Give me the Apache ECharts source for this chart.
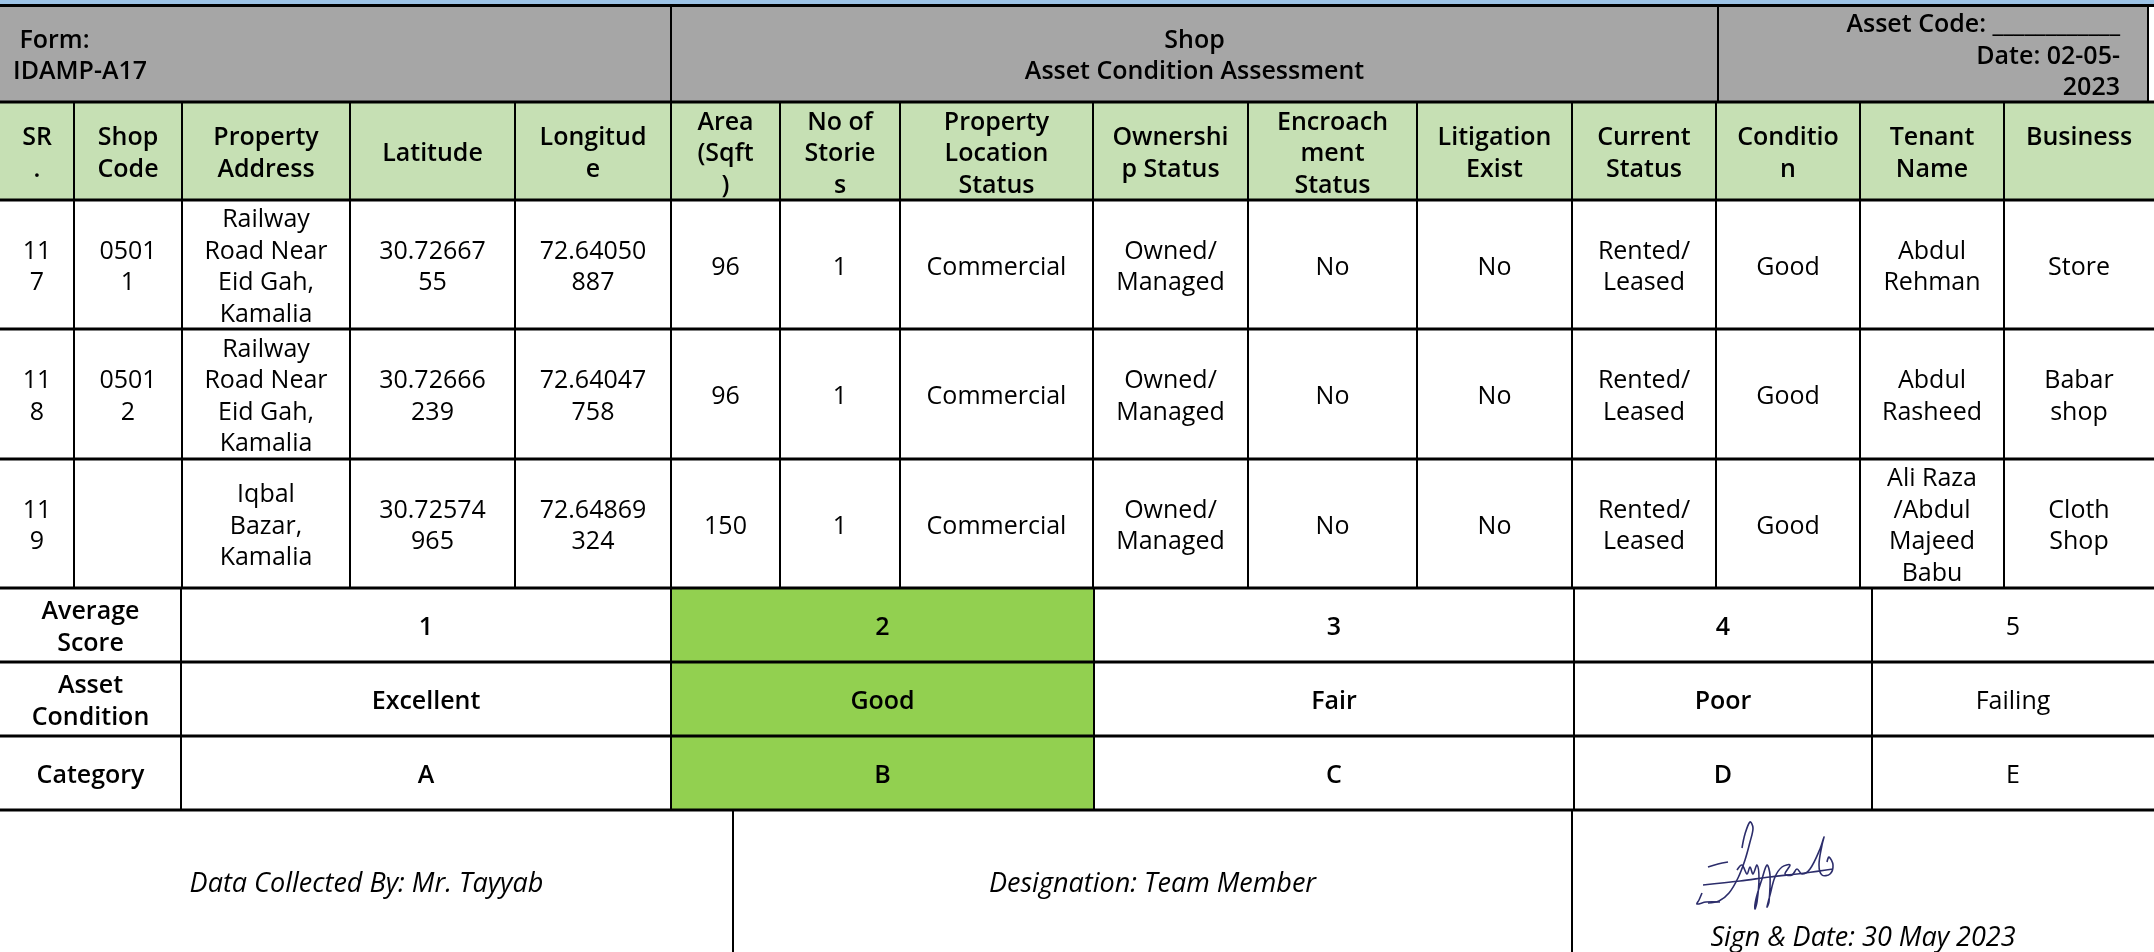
<!DOCTYPE html>
<html><head><meta charset="utf-8">
<script src="https://cdn.jsdelivr.net/npm/echarts@6/dist/echarts.min.js"></script>
<style>html,body{margin:0;padding:0;background:#fff}#c{width:2154px;height:952px}</style>
</head><body><div id="c"></div>
<script>
// ---------------- DATA ----------------
const formLabel = ' Form:';
const formCode = 'IDAMP-A17';
const sheetTitle = ['Shop', 'Asset Condition Assessment'];
const assetCodeText = 'Asset Code: ____________';
const reportDate = '02-05-2023';
const columnHeaders = ['SR\n.', 'Shop\nCode', 'Property\nAddress', 'Latitude', 'Longitud\ne', 'Area\n(Sqft\n)', 'No of\nStorie\ns',
  'Property\nLocation\nStatus', 'Ownershi\np Status', 'Encroach\nment\nStatus', 'Litigation\nExist', 'Current\nStatus', 'Conditio\nn', 'Tenant\nName', 'Business\n'];
const srNo = ['117', '118', '119'];
const shopCode = ['05011', '05012', ''];
const propertyAddress = ['Railway Road Near Eid Gah, Kamalia', 'Railway Road Near Eid Gah, Kamalia', 'Iqbal Bazar, Kamalia'];
const latitude = ['30.7266755', '30.72666239', '30.72574965'];
const longitude = ['72.64050887', '72.64047758', '72.64869324'];
const areaSqft = [96, 96, 150];
const noOfStories = [1, 1, 1];
const locationStatus = ['Commercial', 'Commercial', 'Commercial'];
const ownershipStatus = ['Owned/Managed', 'Owned/Managed', 'Owned/Managed'];
const encroachmentStatus = ['No', 'No', 'No'];
const litigationExist = ['No', 'No', 'No'];
const currentStatus = ['Rented/Leased', 'Rented/Leased', 'Rented/Leased'];
const conditionValue = ['Good', 'Good', 'Good'];
const tenantName = ['Abdul Rehman', 'Abdul Rasheed', 'Ali Raza /Abdul Majeed Babu'];
const businessName = ['Store', 'Babar shop', 'Cloth Shop'];
const scaleLabels = ['Average Score', 'Asset Condition', 'Category'];
const averageScores = [1, 2, 3, 4, 5];
const assetConditions = ['Excellent', 'Good', 'Fair', 'Poor', 'Failing'];
const categories = ['A', 'B', 'C', 'D', 'E'];
const selectedCategory = 'B';
const collectedBy = 'Data Collected By: Mr. Tayyab';
const designation = 'Designation: Team Member';
const signDate = 'Sign & Date: 30 May 2023';

// ---------------- LAYOUT / STYLE ----------------
const W = 2154, H = 952;
const FAM = '"Open Sans", "Noto Sans", sans-serif';
const FS = 25, LH = 31.5, TEXT_DY = 3;
const C_BLUE = '#9DC3E6', C_GRAY = '#A6A6A6', C_HEAD = '#C6E0B4', C_SEL = '#92D050';
const bandBottom = 5;
const titleEdges = [0, 671, 1718, 2148];
const titleRow = [5, 102];
const headRow = [102, 200];
const colEdges = [0, 74, 182, 350, 515, 671, 780, 900, 1093, 1248, 1417, 1572, 1716, 1860, 2004, 2154];
const dataRowEdges = [200, 329, 459, 588];
const colWrap = [36, 64, 130, 114, 114, 90, 90, 175, 130, 130, 130, 130, 130, 120, 110];
const scaleColEdges = [0, 181, 671, 1094, 1574, 1872, 2154];
const scaleRowEdges = [588, 662, 736, 810];
const footEdges = [0, 733, 1572, 2154];
const footRow = [810, 952];

const fontOf = (w, s, it) => (it ? 'italic ' : '') + w + ' ' + s + 'px ' + FAM;
const F_REG = fontOf(400, FS), F_MED = fontOf(600, FS), F_IT = fontOf(400, 27, true);

const mctx = document.createElement('canvas').getContext('2d');
function wrap(text, maxW, font) {
  text = String(text);
  if (!text) return '';
  mctx.font = font;
  const m = s => mctx.measureText(s).width;
  const tokens = [];
  let cur = '';
  for (let i = 0; i < text.length; i++) {
    const ch = text[i];
    cur += ch;
    const prev = text[i - 1], next = text[i + 1];
    if (ch === ' ' || ((ch === '/' || ch === '-') && prev && prev !== ' ' && next && next !== ' ')) {
      tokens.push(cur); cur = '';
    }
  }
  if (cur) tokens.push(cur);
  const lines = [];
  let line = '';
  for (const tk of tokens) {
    if (m((line + tk).trimEnd()) <= maxW) { line += tk; continue; }
    if (line.trim()) { lines.push(line.trimEnd()); line = ''; }
    let t = tk;
    while (m(t.trimEnd()) > maxW && t.length > 1) {
      let k = 1;
      while (k < t.length && m(t.slice(0, k + 1)) <= maxW) k++;
      lines.push(t.slice(0, k)); t = t.slice(k);
    }
    line = t;
  }
  if (line.trim()) lines.push(line.trimEnd());
  return lines.join('\n');
}

// ---------------- BUILD CELLS ----------------
const cells = [];
const lines = [];
function cell(x0, y0, x1, y1, o) { cells.push(Object.assign({ x0, y0, x1, y1 }, o)); }
function hline(y, x0, x1, w) { lines.push({ x0, y0: y, x1, y1: y, w }); }
function vline(x, y0, y1, w) { lines.push({ x0: x, y0, x1: x, y1, w }); }

cell(0, 0, W, bandBottom, { fill: C_BLUE });
// title row
cell(titleEdges[0], titleRow[0], titleEdges[1], titleRow[1], { fill: C_GRAY, text: formLabel + '\n' + formCode, align: 'left', pad: 13, font: F_MED });
cell(titleEdges[1], titleRow[0], titleEdges[2], titleRow[1], { fill: C_GRAY, text: sheetTitle.join('\n'), font: F_MED });
cell(titleEdges[2], titleRow[0], titleEdges[3], titleRow[1], { fill: C_GRAY, text: assetCodeText + '\n' + wrap('Date: ' + reportDate, 185, F_MED), align: 'right', pad: 28, font: F_MED });
// header row
columnHeaders.forEach((h, i) => cell(colEdges[i], headRow[0], colEdges[i + 1], headRow[1], { fill: C_HEAD, text: h, font: F_MED }));
// data rows
const columns = [srNo, shopCode, propertyAddress, latitude, longitude, areaSqft, noOfStories, locationStatus,
  ownershipStatus, encroachmentStatus, litigationExist, currentStatus, conditionValue, tenantName, businessName];
for (let r = 0; r < srNo.length; r++) {
  columns.forEach((col, i) => cell(colEdges[i], dataRowEdges[r], colEdges[i + 1], dataRowEdges[r + 1],
    { text: wrap(col[r], colWrap[i], F_REG), font: F_REG }));
}
// scale rows
const scaleRows = [averageScores, assetConditions, categories];
scaleRows.forEach((vals, r) => {
  const y0 = scaleRowEdges[r], y1 = scaleRowEdges[r + 1];
  cell(scaleColEdges[0], y0, scaleColEdges[1], y1, { text: wrap(scaleLabels[r], 140, F_MED), font: F_MED });
  vals.forEach((v, k) => {
    const sel = categories[k] === selectedCategory;
    cell(scaleColEdges[k + 1], y0, scaleColEdges[k + 2], y1,
      { fill: sel ? C_SEL : null, text: String(v), font: k === vals.length - 1 ? F_REG : F_MED });
  });
});
// footer
cell(footEdges[0], footRow[0], footEdges[1], footRow[1], { text: collectedBy, font: F_IT });
cell(footEdges[1], footRow[0], footEdges[2], footRow[1], { text: designation, font: F_IT });
cell(footEdges[2], footRow[0], footEdges[3], footRow[1], { text: signDate, font: F_IT, vAlign: 'bottom', pad: 17 });

// grid lines
hline(bandBottom + 0.5, 0, W, 3);
titleEdges.slice(1).forEach(x => vline(x, titleRow[0], titleRow[1], 2));
hline(headRow[0], 0, W, 3);
colEdges.slice(1, -1).forEach(x => vline(x, headRow[0], dataRowEdges[dataRowEdges.length - 1], 2));
[headRow[1]].concat(dataRowEdges.slice(1)).forEach(y => hline(y, 0, W, 3));
scaleColEdges.slice(1, -1).forEach(x => vline(x, scaleRowEdges[0], scaleRowEdges[scaleRowEdges.length - 1], 2));
scaleRowEdges.slice(1).forEach(y => hline(y, 0, W, 3));
footEdges.slice(1, -1).forEach(x => vline(x, footRow[0], footRow[1], 2));

// decorative signature ink strokes, placed in the signature cell
const signature = [
  [[1742, 848], [1745, 834], [1750, 822], [1753, 828], [1750, 842], [1745, 860], [1738, 878], [1729, 893], [1719, 901], [1708, 903]],
  [[1702, 893], [1699, 900], [1697, 904], [1706, 902], [1720, 902]],
  [[1703, 885], [1740, 881], [1770, 877], [1805, 873], [1833, 869]],
  [[1708, 867], [1718, 864], [1728, 862]],
  [[1737, 870], [1742, 865], [1747, 874], [1750, 867], [1753, 874], [1757, 865], [1759, 879], [1757, 902], [1755, 909], [1756, 899],
   [1762, 879], [1767, 865], [1770, 875], [1769, 902], [1767, 907], [1770, 895], [1775, 877], [1782, 867], [1790, 865], [1785, 874],
   [1792, 875], [1797, 869], [1802, 874], [1810, 869], [1820, 849], [1824, 837], [1822, 845], [1819, 865], [1822, 875], [1830, 874],
   [1833, 865], [1829, 857], [1827, 862]]
];

const chart = echarts.init(document.getElementById('c'), null, { renderer: 'canvas' });
chart.setOption({
  animation: false,
  backgroundColor: '#ffffff',
  grid: { left: 0, right: 0, top: 0, bottom: 0 },
  xAxis: { type: 'value', min: 0, max: W, show: false },
  yAxis: { type: 'value', min: 0, max: H, inverse: true, show: false },
  series: [
    {
      type: 'custom', silent: true, clip: false,
      data: cells.map(c => [c.x0, c.y0, c.x1, c.y1]),
      renderItem(params, api) {
        const c = cells[params.dataIndex];
        const p0 = api.coord([c.x0, c.y0]), p1 = api.coord([c.x1, c.y1]);
        const ch = [];
        if (c.fill) ch.push({ type: 'rect', shape: { x: p0[0], y: p0[1], width: p1[0] - p0[0], height: p1[1] - p0[1] }, style: { fill: c.fill } });
        if (c.text) {
          const align = c.align || 'center';
          const tx = align === 'left' ? p0[0] + c.pad : align === 'right' ? p1[0] - c.pad : (p0[0] + p1[0]) / 2;
          const bottom = c.vAlign === 'bottom';
          const ty = (bottom ? p1[1] - c.pad : (p0[1] + p1[1]) / 2) + TEXT_DY;
          ch.push({ type: 'text', style: { text: c.text, x: tx, y: ty, align, verticalAlign: 'middle', font: c.font, fill: '#000', lineHeight: LH } });
        }
        return { type: 'group', children: ch };
      }
    },
    {
      type: 'custom', silent: true, clip: false,
      data: lines.map(l => [l.x0, l.y0, l.x1, l.y1]),
      renderItem(params, api) {
        const l = lines[params.dataIndex];
        const a = api.coord([l.x0, l.y0]), b = api.coord([l.x1, l.y1]);
        return { type: 'line', shape: { x1: a[0], y1: a[1], x2: b[0], y2: b[1] }, style: { stroke: '#000', lineWidth: l.w } };
      }
    },
    {
      type: 'custom', silent: true, clip: false,
      data: signature.map(s => s[0]),
      renderItem(params, api) {
        const pts = signature[params.dataIndex].map(p => api.coord(p));
        return { type: 'polyline', shape: { points: pts, smooth: 0.35 }, style: { stroke: '#2c2d6b', lineWidth: 1.6, fill: null } };
      }
    }
  ]
});
</script>
</body></html>
